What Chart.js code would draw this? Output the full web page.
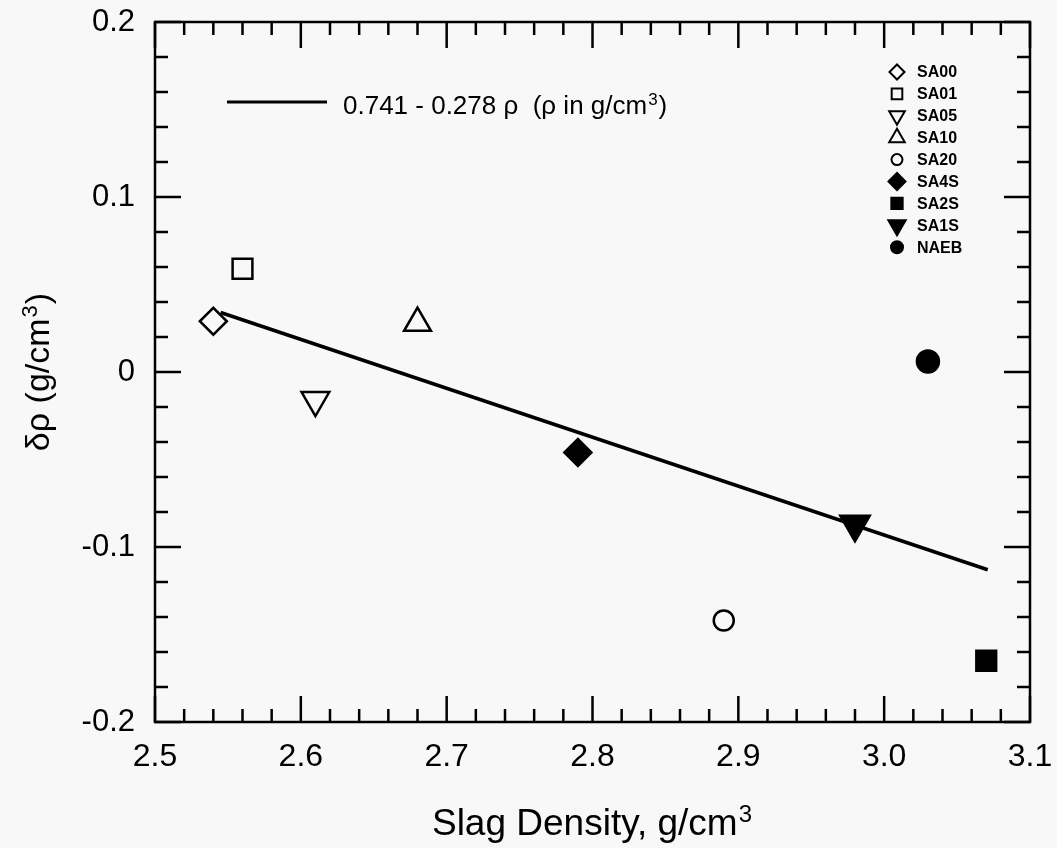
<!DOCTYPE html>
<html>
<head>
<meta charset="utf-8">
<title>Slag density vs delta rho</title>
<script src="https://cdn.jsdelivr.net/npm/chart.js@4.4.1/dist/chart.umd.min.js"></script>
<style>
    html, body { margin: 0; padding: 0; background: #f8f8f8; }
    canvas { display: block; }
</style>
</head>
<body>
<canvas id="densityChart" width="1057" height="848"></canvas>
<script>
const sampleNames = ['SA00', 'SA01', 'SA05', 'SA10', 'SA20', 'SA4S', 'SA2S', 'SA1S', 'NAEB'];
const slagDensity = [2.54, 2.56, 2.61, 2.68, 2.89, 2.79, 3.07, 2.98, 3.03];
const deltaRho = [0.029, 0.059, -0.016, 0.028, -0.142, -0.046, -0.165, -0.087, 0.006];

// Fitted line end points
const fitDensity = [2.545, 3.071];
const fitDelta = [0.034, -0.113];
const fitLabel = ['0.741 - 0.278 \u03c1  (\u03c1 in g/cm', '3', ')'];

// Axis tick labels and titles (text, superscript, tail)
const xTickLabels = ['2.5', '2.6', '2.7', '2.8', '2.9', '3.0', '3.1'];
const yTickLabels = ['-0.2', '-0.1', '0', '0.1', '0.2'];
const xTitle = ['Slag Density, g/cm', '3', ''];
const yTitle = ['\u03b4\u03c1 (g/cm', '3', ')'];

// Marker look per sample (r = plot radius, lr = legend radius)
const markerStyles = [
    { shape: 'rectRot', rot: 0, filled: false, r: 13.5, lr: 7.5 },
    { shape: 'rect', rot: 0, filled: false, r: 14, lr: 7.5 },
    { shape: 'triangle', rot: 180, filled: false, r: 16, lr: 9 },
    { shape: 'triangle', rot: 0, filled: false, r: 15.5, lr: 9 },
    { shape: 'circle', rot: 0, filled: false, r: 10, lr: 5.5 },
    { shape: 'rectRot', rot: 0, filled: true, r: 13.5, lr: 8.5 },
    { shape: 'rect', rot: 0, filled: true, r: 14, lr: 8 },
    { shape: 'triangle', rot: 180, filled: true, r: 17, lr: 10 },
    { shape: 'circle', rot: 0, filled: true, r: 11, lr: 6 }
];

const FONT = "'Liberation Sans', Arial, Helvetica, sans-serif";

function labelFor(list, value) {
    const hit = list.find(l => Math.abs(parseFloat(l) - value) < 1e-6);
    return hit === undefined ? '' : hit;
}

function isMajor(value) {
    return Math.abs(Math.round(value * 10) - value * 10) < 1e-6;
}

// text with a raised superscript part, drawn on the alphabetic baseline
function drawSupText(ctx, parts, size, x, y, centered) {
    const supSize = Math.round(size * 0.66);
    ctx.font = size + 'px ' + FONT;
    const w1 = ctx.measureText(parts[0]).width;
    const w3 = ctx.measureText(parts[2]).width;
    ctx.font = supSize + 'px ' + FONT;
    const w2 = ctx.measureText(parts[1]).width;
    const total = w1 + 1 + w2 + 1 + w3;
    const sx = centered ? x - total / 2 : x;
    ctx.textAlign = 'left';
    ctx.textBaseline = 'alphabetic';
    ctx.font = size + 'px ' + FONT;
    ctx.fillText(parts[0], sx, y);
    ctx.fillText(parts[2], sx + w1 + w2 + 2, y);
    ctx.font = supSize + 'px ' + FONT;
    ctx.fillText(parts[1], sx + w1 + 1, y - size * 0.34);
}

// Build one dataset per sample
const datasets = sampleNames.map((name, i) => {
    const st = markerStyles[i];
    return {
        label: name,
        data: [{ x: slagDensity[i], y: deltaRho[i] }],
        pointStyle: st.shape,
        rotation: st.rot,
        radius: st.r,
        pointRadius: st.r,
        borderWidth: 2.5,
        borderColor: '#000',
        backgroundColor: st.filled ? '#000' : 'rgba(0,0,0,0)'
    };
});

datasets.unshift({
    label: 'fit',
    data: fitDensity.map((x, i) => ({ x: x, y: fitDelta[i] })),
    showLine: true,
    pointRadius: 0,
    borderColor: '#000',
    borderWidth: 3.5,
    fill: false
});

// Frame, inward ticks on all sides, axis titles and the inside legend
const frameAndLegend = {
    id: 'frameAndLegend',
    afterDraw(chart) {
        const ctx = chart.ctx;
        const area = chart.chartArea;
        const xs = chart.scales.x;
        const ys = chart.scales.y;
        ctx.save();
        ctx.strokeStyle = '#000';
        ctx.lineWidth = 2.5;
        ctx.strokeRect(area.left, area.top, area.right - area.left, area.bottom - area.top);

        ctx.beginPath();
        xs.ticks.forEach(t => {
            const px = xs.getPixelForValue(t.value);
            const len = isMajor(t.value) ? 26 : 13;
            ctx.moveTo(px, area.bottom);
            ctx.lineTo(px, area.bottom - len);
            ctx.moveTo(px, area.top);
            ctx.lineTo(px, area.top + len);
        });
        ys.ticks.forEach(t => {
            const py = ys.getPixelForValue(t.value);
            const len = isMajor(t.value) ? 26 : 13;
            ctx.moveTo(area.left, py);
            ctx.lineTo(area.left + len, py);
            ctx.moveTo(area.right, py);
            ctx.lineTo(area.right - len, py);
        });
        ctx.stroke();

        ctx.fillStyle = '#000';
        // axis titles
        drawSupText(ctx, xTitle, 37, (area.left + area.right) / 2, 835, true);
        ctx.save();
        ctx.translate(49, (area.top + area.bottom) / 2);
        ctx.rotate(-Math.PI / 2);
        drawSupText(ctx, yTitle, 34, 0, 0, true);
        ctx.restore();

        // fit line legend
        ctx.lineWidth = 3;
        ctx.beginPath();
        ctx.moveTo(227, 102);
        ctx.lineTo(327, 102);
        ctx.stroke();
        drawSupText(ctx, fitLabel, 26, 343, 114, false);

        // sample legend
        const helpers = Chart.helpers;
        ctx.font = 'bold 16px ' + FONT;
        ctx.textAlign = 'left';
        ctx.textBaseline = 'middle';
        sampleNames.forEach((name, i) => {
            const st = markerStyles[i];
            const cy = 72 + i * 21.9;
            ctx.lineWidth = 2;
            ctx.strokeStyle = '#000';
            ctx.fillStyle = st.filled ? '#000' : 'rgba(0,0,0,0)';
            ctx.beginPath();
            helpers.drawPoint(ctx, { pointStyle: st.shape, radius: st.lr, rotation: st.rot, borderWidth: 2 }, 897, cy);
            ctx.fillStyle = '#000';
            ctx.fillText(name, 917, cy + 1);
        });
        ctx.restore();
    }
};

const ctx = document.getElementById('densityChart').getContext('2d');
const chart = new Chart(ctx, {
    type: 'scatter',
    data: { datasets: datasets },
    options: {
        responsive: false,
        animation: false,
        devicePixelRatio: 1,
        layout: { padding: { top: 22, right: 27, left: 0, bottom: 0 } },
        plugins: {
            legend: { display: false },
            tooltip: { enabled: false }
        },
        scales: {
            x: {
                type: 'linear',
                min: 2.5,
                max: 3.1,
                grid: { display: false, drawTicks: false },
                border: { display: false },
                ticks: {
                    stepSize: 0.02,
                    autoSkip: false,
                    maxRotation: 0,
                    padding: 16,
                    color: '#000',
                    font: { family: FONT, size: 32 },
                    callback: v => labelFor(xTickLabels, v)
                },
                // fixed box so the plot area matches the figure
                afterFit(scale) {
                    scale.height = 126;
                    scale.paddingLeft = 0;
                    scale.paddingRight = 0;
                }
            },
            y: {
                type: 'linear',
                min: -0.2,
                max: 0.2,
                grid: { display: false, drawTicks: false },
                border: { display: false },
                ticks: {
                    stepSize: 0.02,
                    autoSkip: false,
                    padding: 20,
                    color: '#000',
                    font: { family: FONT, size: 31 },
                    callback: v => labelFor(yTickLabels, v)
                },
                afterFit(scale) {
                    scale.width = 155;
                    scale.paddingTop = 0;
                    scale.paddingBottom = 0;
                }
            }
        }
    },
    plugins: [frameAndLegend]
});
</script>
</body>
</html>
